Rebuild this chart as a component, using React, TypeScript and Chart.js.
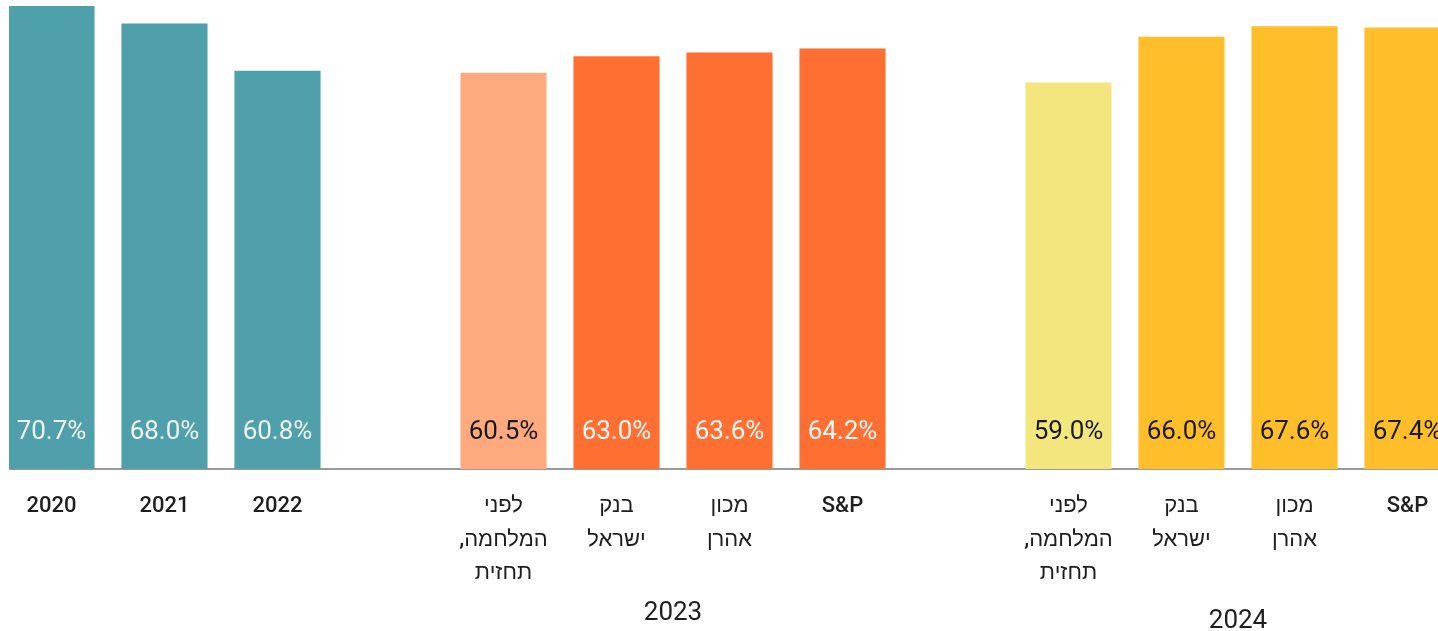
import React, { useEffect, useRef } from 'react';
import { Chart, registerables } from 'chart.js';

Chart.register(...registerables);

const categories: (string | string[])[] = [
  '2020',
  '2021',
  '2022',
  '',
  ['לפני', 'המלחמה,', 'תחזית'],
  ['בנק', 'ישראל'],
  ['מכון', 'אהרן'],
  'S&P',
  '',
  ['לפני', 'המלחמה,', 'תחזית'],
  ['בנק', 'ישראל'],
  ['מכון', 'אהרן'],
  'S&P',
];

const values: (number | null)[] = [70.7, 68.0, 60.8, null, 60.5, 63.0, 63.6, 64.2, null, 59.0, 66.0, 67.6, 67.4];

const barColors = [
  '#4FA0AA', '#4FA0AA', '#4FA0AA', 'transparent',
  '#FFA97F', '#FF6F31', '#FF6F31', '#FF6F31', 'transparent',
  '#F4E67E', '#FFBE2A', '#FFBE2A', '#FFBE2A',
];

const labelColors = [
  '#F0F3F3', '#F0F3F3', '#F0F3F3', '',
  '#1A1A1A', '#F7F7F7', '#F7F7F7', '#F7F7F7', '',
  '#1A1A1A', '#1A1A1A', '#1A1A1A', '#1A1A1A',
];

const groupNames = ['2023', '2024'];
const groupFirst = [4, 9];
const groupLast = [7, 12];

const FONT = "Roboto, 'Liberation Sans', 'DejaVu Sans', sans-serif";

const valueLabelPlugin = {
  id: 'valueLabels',
  afterDatasetsDraw(chart: any) {
    const ctx = chart.ctx;
    const meta = chart.getDatasetMeta(0);
    ctx.save();
    ctx.font = `400 26px ${FONT}`;
    ctx.textAlign = 'center';
    ctx.textBaseline = 'middle';
    meta.data.forEach((bar: any, i: number) => {
      const v = values[i];
      if (v === null || v === undefined) return;
      ctx.fillStyle = labelColors[i];
      ctx.fillText(v.toFixed(1) + '%', bar.x, bar.base - 37);
    });
    ctx.restore();
  },
};

const groupLabelPlugin = {
  id: 'groupLabels',
  afterDraw(chart: any) {
    const ctx = chart.ctx;
    const x = chart.scales.x;
    const offsets = [144, 152];
    ctx.save();
    ctx.font = `400 26px ${FONT}`;
    ctx.fillStyle = '#1E1E1E';
    ctx.textAlign = 'center';
    ctx.textBaseline = 'middle';
    groupNames.forEach((name, g) => {
      const cx = (x.getPixelForValue(groupFirst[g]) + x.getPixelForValue(groupLast[g])) / 2;
      ctx.fillText(name, cx, chart.chartArea.bottom + offsets[g]);
    });
    ctx.restore();
  },
};

export default function App() {
  const ref = useRef<HTMLCanvasElement | null>(null);

  useEffect(() => {
    if (!ref.current) return;
    const chart = new Chart(ref.current, {
      type: 'bar',
      data: {
        labels: categories,
        datasets: [
          {
            data: values as any,
            backgroundColor: barColors,
            borderWidth: 0,
            barPercentage: 0.762,
            categoryPercentage: 1,
          },
        ],
      },
      options: {
        responsive: false,
        animation: false,
        devicePixelRatio: 1,
        layout: { padding: 0 },
        plugins: {
          legend: { display: false },
          tooltip: { enabled: false },
        },
        scales: {
          x: {
            offset: true,
            grid: { display: false, drawTicks: false },
            border: { display: true, color: '#9A9A9A', width: 2 },
            ticks: {
              color: '#1E1E1E',
              font: { family: FONT, size: 22, weight: '500', lineHeight: 1.52 },
              padding: 21,
              maxRotation: 0,
              minRotation: 0,
              autoSkip: false,
            },
            afterFit(scale: any) {
              scale.height = 162;
            },
          },
          y: {
            display: false,
            min: 0,
            max: 71.6,
          },
        },
      },
      plugins: [valueLabelPlugin, groupLabelPlugin],
    });
    return () => chart.destroy();
  }, []);

  return (
    <div style={{ position: 'fixed', left: 9, top: 0, width: 1429, height: 631, overflow: 'hidden', background: '#fff' }}>
      <canvas
        ref={ref}
        width={1469}
        height={631}
        dir="rtl"
        style={{ position: 'absolute', left: -14, top: 0, width: 1469, height: 631, direction: 'rtl' }}
      />
    </div>
  );
}
